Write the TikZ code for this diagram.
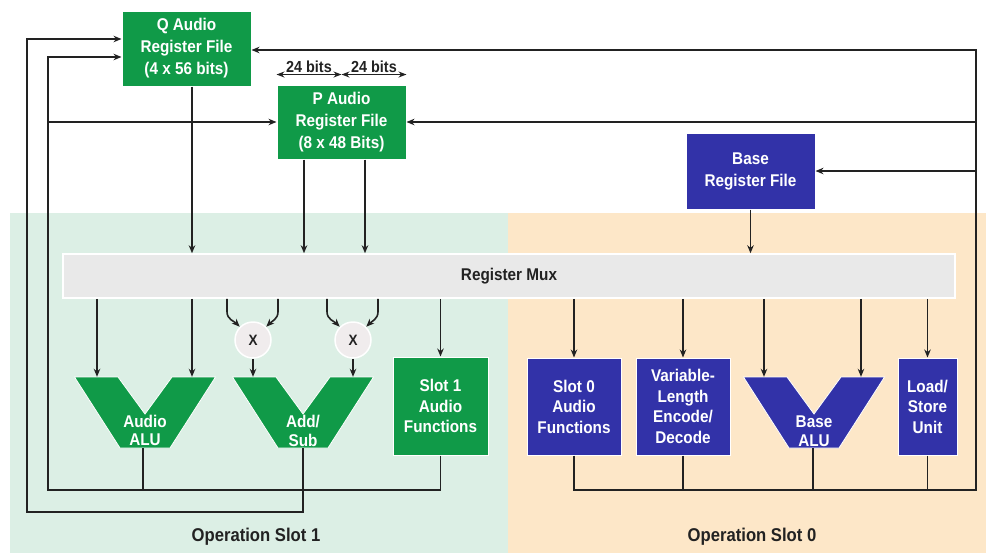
\documentclass[tikz,border=0pt]{standalone}
\usepackage{fontspec}
\setmainfont{Liberation Sans}[FakeStretch=0.9]
\usetikzlibrary{arrows.meta, positioning, calc}

\definecolor{audgreen}{HTML}{109A48}
\definecolor{baseblue}{HTML}{3232A8}
\definecolor{mint}{HTML}{DCEFE5}
\definecolor{peach}{HTML}{FDE7C8}
\definecolor{muxgray}{HTML}{E9E9E9}
\definecolor{multgray}{HTML}{F0ECED}
\definecolor{linecol}{HTML}{222222}

\begin{document}
\begin{tikzpicture}[
    x=1pt, y=1pt,
    % Register file boxes
    regbox/.style={
        rectangle,
        draw=white,
        line width=1pt,
        text=white,
        align=center,
        inner sep=0pt,
        font=\fontsize{17}{22}\selectfont\bfseries
    },
    % Functional unit boxes
    unitbox/.style={
        regbox,
        font=\fontsize{17}{20.5}\selectfont\bfseries
    },
    % Invisible frame of an ALU
    alubox/.style={
        rectangle,
        minimum width=141pt,
        minimum height=71pt,
        inner sep=0pt
    },
    alutext/.style={
        text=white,
        align=center,
        inner sep=0pt,
        font=\fontsize{17}{18.5}\selectfont\bfseries
    },
    % Multiplier circle
    mult/.style={
        circle,
        fill=multgray,
        draw=white,
        line width=1.5pt,
        minimum size=36pt,
        inner sep=0pt,
        text=linecol,
        font=\fontsize{15}{15}\selectfont\bfseries
    },
    muxbar/.style={
        rectangle,
        fill=muxgray,
        draw=white,
        line width=1.5pt,
        minimum width=892pt,
        minimum height=44pt,
        text=linecol,
        font=\fontsize{17}{20}\selectfont\bfseries
    },
    % Arrow styles
    arrow/.style={
        -{Stealth[length=8pt, width=6.5pt]},
        line width=1.6pt,
        draw=linecol
    },
    wire/.style={
        line width=1.6pt,
        draw=linecol
    },
    biarrow/.style={
        {Stealth[length=8pt, width=6pt]}-{Stealth[length=8pt, width=6pt]},
        line width=1.4pt,
        draw=linecol
    },
    bitlabel/.style={
        above,
        inner sep=1pt,
        text=linecol,
        font=\fontsize{16}{18}\selectfont\bfseries
    },
    slotlabel/.style={
        text=linecol,
        font=\fontsize{18.5}{20}\selectfont\bfseries
    },
    % V-shaped ALU outline
    valu/.pic={
        \path[pic actions] (-70.5,35.5) -- (-27,35.5) -- (0,-1.5) -- (27,35.5)
            -- (70.5,35.5) -- (25,-35.5) -- (-25,-35.5) -- cycle;
    }
]

\useasboundingbox (0,0) rectangle (986,-555);

% === Operation slot backgrounds ===
\fill[mint] (10,-213) rectangle (508,-553);
\fill[peach] (508,-213) rectangle (986,-553);

% === Register files ===
\node[regbox, fill=audgreen, minimum width=129pt, minimum height=75pt]
    (qreg) at (186.5,-48.5) {Q Audio\\Register File\\(4 x 56 bits)};
\node[regbox, fill=audgreen, minimum width=129pt, minimum height=74pt]
    (preg) at (341.5,-122) {P Audio\\Register File\\(8 x 48 Bits)};
\node[regbox, fill=baseblue, minimum width=129pt, minimum height=76pt]
    (basereg) at (750.5,-171) {Base\\Register File};

\node[muxbar] (mux) at (509,-276) {Register Mux};

% === Operation Slot 1 ===
\node[alubox] (aalu) at (145,-412.5) {};
\node[alubox] (addsub) at (303,-412.5) {};
\pic[fill=audgreen, draw=white, line width=0.8pt] at (aalu) {valu};
\pic[fill=audgreen, draw=white, line width=0.8pt] at (addsub) {valu};
\node[alutext] (aalu-txt) at ([yshift=-18pt]aalu.center) {Audio\\ALU};
\node[alutext] (addsub-txt) at ([yshift=-18.5pt]addsub.center) {Add/\\Sub};

\node[mult] (mul1) at (253,-340) {X};
\node[mult] (mul2) at (353,-340) {X};

\node[unitbox, fill=audgreen, minimum width=95pt, minimum height=98pt]
    (slot1) at (440.5,-406) {Slot 1\\Audio\\Functions};

% === Operation Slot 0 ===
\node[unitbox, fill=baseblue, minimum width=94pt, minimum height=97pt]
    (slot0) at (574,-406.5) {Slot 0\\Audio\\Functions};
\node[unitbox, fill=baseblue, minimum width=94pt, minimum height=97pt]
    (vle) at (683,-406.5) {Variable-\\Length\\Encode/\\Decode};
\node[alubox, minimum width=142pt] (balu) at (814,-412.5) {};
\pic[fill=baseblue, draw=white, line width=0.8pt] at (balu) {valu};
\node[alutext] (balu-txt) at ([yshift=-18.5pt]balu.center) {Base\\ALU};
\node[unitbox, fill=baseblue, minimum width=59pt, minimum height=97pt]
    (lsu) at (927.5,-406.5) {Load/\\Store\\Unit};

\node[slotlabel] (slot1-lbl) at (256,-537) {Operation Slot 1};
\node[slotlabel] (slot0-lbl) at (752,-537) {Operation Slot 0};

% === Helper points ===
\coordinate (aalu-l) at ([xshift=-48pt]aalu.north);
\coordinate (aalu-r) at ([xshift=47pt]aalu.north);
\coordinate (addsub-l) at ([xshift=-50pt]addsub.north);
\coordinate (addsub-r) at ([xshift=50pt]addsub.north);
\coordinate (balu-l) at ([xshift=-50pt]balu.north);
\coordinate (balu-r) at ([xshift=47pt]balu.north);
\coordinate (preg-a) at ([xshift=-37.5pt]preg.south);
\coordinate (preg-b) at ([xshift=23.5pt]preg.south);
\coordinate (m1a) at ([xshift=-26pt]mul1.north);
\coordinate (m1b) at ([xshift=25pt]mul1.north);
\coordinate (m2a) at ([xshift=-26pt]mul2.north);
\coordinate (m2b) at ([xshift=25pt]mul2.north);
\coordinate (busa) at (27,-512);
\coordinate (busb) at (48,-490);
\coordinate (busc) at (976,-490);
\coordinate (pw-l) at ([yshift=10pt]preg.north west);
\coordinate (pw-m) at ([yshift=10pt]preg.north);
\coordinate (pw-r) at ([yshift=10pt]preg.north east);

% === Register width annotation ===
\draw[biarrow] (pw-l) -- node[bitlabel] (bits-a) {24 bits} (pw-m);
\draw[biarrow] (pw-m) -- node[bitlabel] (bits-b) {24 bits} (pw-r);

% === Register files into mux ===
\draw[arrow] (aalu-r |- qreg.south) -- (aalu-r |- mux.north);
\draw[arrow] (preg-a) -- (preg-a |- mux.north);
\draw[arrow] (preg-b) -- (preg-b |- mux.north);
\draw[arrow] (basereg.south) -- (basereg.south |- mux.north);

% === Mux into slot 1 units ===
\draw[arrow] (mux.south -| aalu-l) -- (aalu-l);
\draw[arrow] (mux.south -| aalu-r) -- (aalu-r);
\draw[arrow] (mux.south -| m1a) -- ++(0,-13) to[out=-90, in=135] (mul1.135);
\draw[arrow] (mux.south -| m1b) -- ++(0,-13) to[out=-90, in=45] (mul1.45);
\draw[arrow] (mux.south -| m2a) -- ++(0,-13) to[out=-90, in=135] (mul2.135);
\draw[arrow] (mux.south -| m2b) -- ++(0,-13) to[out=-90, in=45] (mul2.45);
\draw[arrow] (mul1.south) -- (addsub-l);
\draw[arrow] (mul2.south) -- (addsub-r);
\draw[arrow] (mux.south -| slot1.north) -- (slot1.north);

% === Mux into slot 0 units ===
\draw[arrow] (mux.south -| slot0.north) -- (slot0.north);
\draw[arrow] (mux.south -| vle.north) -- (vle.north);
\draw[arrow] (mux.south -| balu-l) -- (balu-l);
\draw[arrow] (mux.south -| balu-r) -- (balu-r);
\draw[arrow] (mux.south -| lsu.north) -- (lsu.north);

% === Write-back paths ===
\draw[arrow] (addsub.south) |- (busa) |- ([yshift=9.5pt]qreg.west);
\draw[arrow] (slot1.south) |- (busb) |- ([yshift=-8.5pt]qreg.west);
\draw[wire] ([xshift=-2pt]aalu.south) -- ([xshift=-2pt]aalu.south |- busb);
\draw[arrow] (busb |- preg.west) -- (preg.west);

\draw[arrow] (slot0.south) |- (busc) |- ([yshift=-1.5pt]qreg.east);
\draw[wire] (vle.south) -- (vle.south |- busc);
\draw[wire] ([xshift=-1pt]balu.south) -- ([xshift=-1pt]balu.south |- busc);
\draw[wire] (lsu.south) -- (lsu.south |- busc);
\draw[arrow] (busc |- preg.east) -- (preg.east);
\draw[arrow] (busc |- basereg.east) -- (basereg.east);

\end{tikzpicture}
\end{document}
